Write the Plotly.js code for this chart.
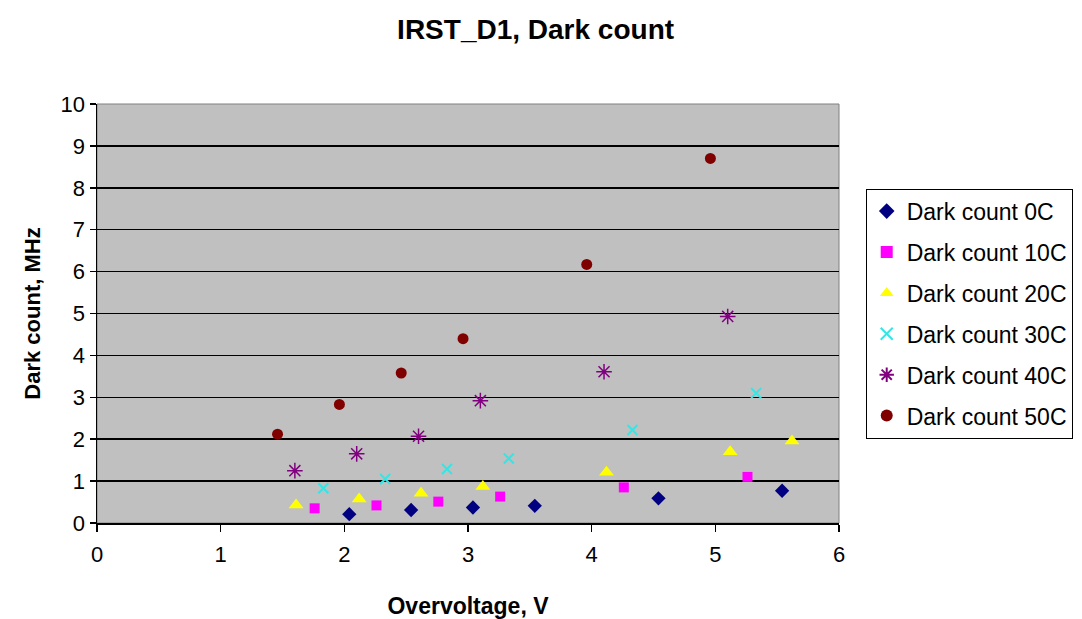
<!DOCTYPE html>
<html>
<head>
<meta charset="utf-8">
<script src="https://cdn.plot.ly/plotly-3.0.1.min.js"></script>
<style>html,body{margin:0;padding:0;background:#fff;}#chart{width:1082px;height:619px;}</style>
</head>
<body>
<div id="chart"></div>
<script>
const seriesNames = ["Dark count 0C","Dark count 10C","Dark count 20C","Dark count 30C","Dark count 40C","Dark count 50C"];
const x0C = [2.04,2.54,3.04,3.54,4.54,5.54];
const y0C = [0.21,0.31,0.37,0.41,0.59,0.77];
const x10C = [1.76,2.26,2.76,3.26,4.26,5.26];
const y10C = [0.35,0.42,0.51,0.63,0.85,1.10];
const x20C = [1.61,2.12,2.62,3.12,4.12,5.12,5.62];
const y20C = [0.43,0.57,0.71,0.87,1.21,1.70,1.96];
const x30C = [1.83,2.33,2.83,3.33,4.33,5.33];
const y30C = [0.83,1.05,1.29,1.54,2.22,3.10];
const x40C = [1.60,2.10,2.60,3.10,4.10,5.10];
const y40C = [1.25,1.65,2.07,2.92,3.61,4.93];
const x50C = [1.46,1.96,2.46,2.96,3.96,4.96];
const y50C = [2.12,2.83,3.58,4.40,6.17,8.70];
const xTicks = [0,1,2,3,4,5,6];
const yTicks = [0,1,2,3,4,5,6,7,8,9,10];

const styles = [
  {symbol:"diamond", color:"#000080", size:11, line:{width:0}},
  {symbol:"square", color:"#FF00FF", size:10, line:{width:0}},
  {symbol:"triangle-up", color:"#FFFF00", size:13, line:{width:0}},
  {symbol:"x-thin-open", color:"#33E6E6", size:10, line:{width:2, color:"#33E6E6"}},
  {symbol:"asterisk-open", color:"#800080", size:13, line:{width:1.5, color:"#800080"}},
  {symbol:"circle", color:"#800000", size:11, line:{width:0}}
];
const xs = [x0C,x10C,x20C,x30C,x40C,x50C];
const ys = [y0C,y10C,y20C,y30C,y40C,y50C];

const traces = seriesNames.map((n,i)=>({
  type:"scatter", mode:"markers", name:n, x:xs[i], y:ys[i],
  legendgroup:"g"+i,
  marker:styles[i], cliponaxis:false
}));

const layout = {
  width:1082, height:619,
  margin:{l:97, r:243, t:104, b:96, autoexpand:false},
  paper_bgcolor:"#ffffff",
  plot_bgcolor:"#C0C0C0",
  font:{family:"Liberation Sans, Arial, sans-serif", color:"#000", size:22},
  title:{text:"<b>IRST_D1, Dark count</b>", x:0.495, xref:"container", xanchor:"center", y:0.953, yref:"container", yanchor:"middle", font:{size:28, color:"#000"}},
  xaxis:{range:[0,6], tickvals:xTicks, ticktext:xTicks.map(String), showgrid:false, zeroline:false,
    showline:true, linecolor:"#000", linewidth:1.5, ticks:"outside", ticklen:7, tickcolor:"#000", tickwidth:1.5,
    tickfont:{size:22}, fixedrange:true, ticklabelstandoff:4, automargin:false,
    title:{text:"<b>Overvoltage, V</b>", font:{size:23}, standoff:34}},
  yaxis:{range:[0,10], tickvals:yTicks, ticktext:yTicks.map(String), showgrid:true, gridcolor:"#000", gridwidth:1.5, zeroline:false,
    showline:true, linecolor:"#000", linewidth:1.5, ticks:"outside", ticklen:6, tickcolor:"#000", tickwidth:1.5,
    tickfont:{size:22}, fixedrange:true, automargin:false,
    title:{text:"<b>Dark count, MHz</b>", font:{size:22}, standoff:14}},
  legend:{x:1.036, xanchor:"left", y:0.798, yanchor:"top", bgcolor:"#fff", bordercolor:"#000", borderwidth:1,
    font:{size:23, color:"#000"}, tracegroupgap:8, itemsizing:"constant", itemwidth:30},
  shapes:[{type:"rect", xref:"paper", yref:"paper", x0:0, x1:1, y0:0, y1:1, line:{color:"#808080", width:1}, layer:"below"}],
  showlegend:true
};
Plotly.newPlot("chart", traces, layout, {displayModeBar:false, staticPlot:true});
</script>
</body>
</html>
